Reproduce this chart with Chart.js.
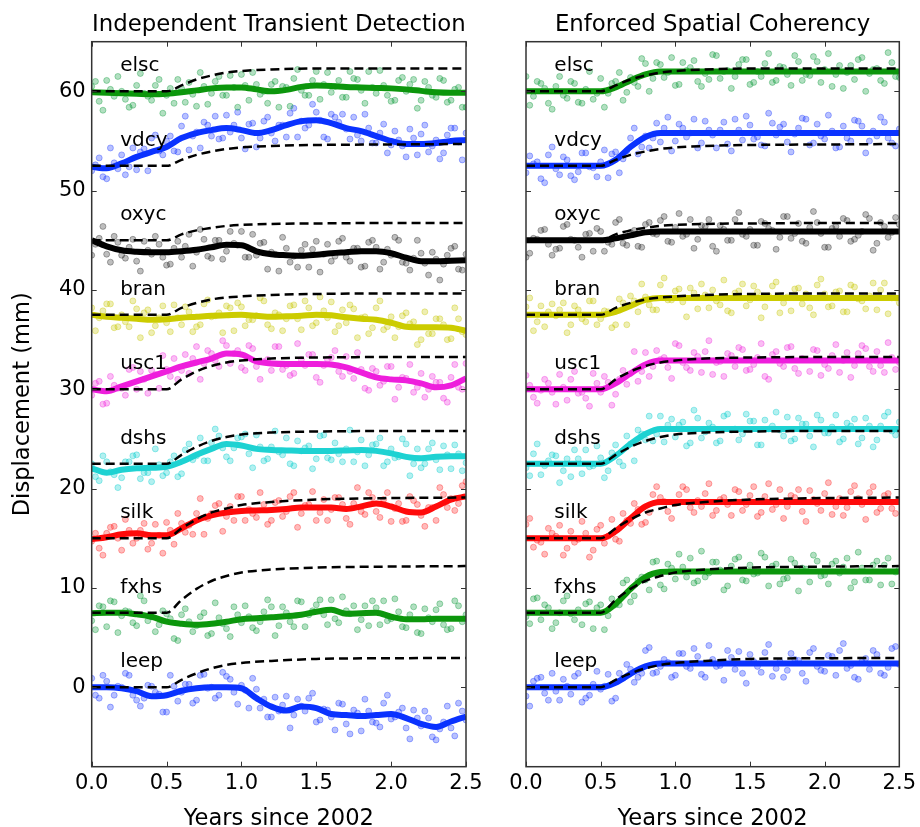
<!DOCTYPE html>
<html><head><meta charset="utf-8">
<script src="https://cdn.jsdelivr.net/npm/chart.js@4.4.1/dist/chart.umd.min.js"></script>
<style>
html,body{margin:0;padding:0;background:#fff;width:920px;height:827px;overflow:hidden}
#cl{position:absolute;left:0;top:0}
#cr{position:absolute;left:490px;top:0}
</style></head><body>
<canvas id="cl" width="500" height="827"></canvas>
<canvas id="cr" width="430" height="827"></canvas>
<script>
// ---------- categories / ticks ----------
const stations = ['elsc','vdcy','oxyc','bran','usc1','dshs','silk','fxhs','leep'];
const labelY = [62, 54.5, 47, 39.5, 32, 24.5, 17, 9.5, 2];
const labelX = 0.19;
const xTicks = [0, 0.5, 1.0, 1.5, 2.0, 2.5];
const yTicks = [0, 10, 20, 30, 40, 50, 60];
const panelTitles = ['Independent Transient Detection', 'Enforced Spatial Coherency'];
const xTitle = 'Years since 2002';
const yTitle = 'Displacement (mm)';

// ---------- time grids ----------
const obsTimes = [0,0.05,0.1,0.15,0.2,0.25,0.3,0.35,0.4,0.45,0.5,0.55,0.6,0.65,0.7,0.75,0.8,0.85,0.9,0.95,1.0,1.05,1.1,1.15,1.2,1.25,1.3,1.35,1.4,1.45,1.5,1.55,1.6,1.65,1.7,1.75,1.8,1.85,1.9,1.95,2.0,2.05,2.1,2.15,2.2,2.25,2.3,2.35,2.4,2.45,2.5];
const obsTimes2 = [0.025,0.075,0.125,0.175,0.225,0.275,0.325,0.375,0.425,0.475,0.525,0.575,0.625,0.675,0.725,0.775,0.825,0.875,0.925,0.975,1.025,1.075,1.125,1.175,1.225,1.275,1.325,1.375,1.425,1.475,1.525,1.575,1.625,1.675,1.725,1.775,1.825,1.875,1.925,1.975,2.025,2.075,2.125,2.175,2.225,2.275,2.325,2.375,2.425,2.475];
const fitTimesLeft = [0,0.1,0.2,0.3,0.4,0.5,0.6,0.7,0.8,0.9,1.0,1.1,1.2,1.3,1.4,1.5,1.6,1.7,1.8,1.9,2.0,2.1,2.2,2.3,2.4,2.5];
const fitTimesRight = [0,0.5,0.6,0.7,0.8,0.9,1.0,2.5];
const trueTimes = [0,0.5,0.6,0.7,0.8,0.9,1.0,1.2,1.5,2.0,2.5];

// ---------- true transient (dashed) ----------
const true_elsc = [60,60,60.6,61.2,61.6,61.9,62.05,62.2,62.3,62.3,62.3];
const true_vdcy = [52.5,52.5,53.1,53.6,53.95,54.2,54.35,54.5,54.6,54.65,54.7];
const true_oxyc = [45,45,45.6,46.0,46.25,46.45,46.55,46.65,46.7,46.75,46.75];
const true_bran = [37.5,37.5,38.2,38.7,39.05,39.25,39.35,39.5,39.6,39.65,39.65];
const true_usc1 = [30,30,31.0,31.8,32.35,32.7,32.9,33.1,33.2,33.25,33.25];
const true_dshs = [22.5,22.5,23.4,24.2,24.8,25.2,25.45,25.65,25.75,25.8,25.8];
const true_silk = [15,15,16.0,16.9,17.6,18.0,18.35,18.65,18.9,19.05,19.1];
const true_fxhs = [7.5,7.5,8.8,9.9,10.7,11.2,11.55,11.85,12.05,12.15,12.2];
const true_leep = [0,0,0.75,1.4,1.9,2.25,2.45,2.65,2.85,2.92,2.95];

// ---------- left panel fits ----------
const fitL_elsc = [59.9,59.85,59.8,59.75,59.7,59.75,59.9,60.1,60.3,60.4,60.4,60.2,60.0,60.15,60.45,60.6,60.55,60.45,60.4,60.35,60.3,60.2,60.05,59.9,59.85,59.85];
const fitL_vdcy = [52.4,52.25,52.75,53.4,53.9,54.4,55.3,55.8,56.1,56.3,56.1,55.8,56.1,56.6,57.0,57.1,56.8,56.3,56.0,55.5,55.0,54.7,54.7,54.8,55.0,55.1];
const fitL_oxyc = [45.0,44.4,44.0,43.85,43.8,43.8,43.9,44.05,44.3,44.55,44.5,43.9,43.6,43.5,43.45,43.55,43.7,43.8,43.9,43.9,43.7,43.25,42.9,42.9,42.95,43.0];
const fitL_bran = [37.5,37.3,37.2,37.1,37.0,37.05,37.2,37.3,37.4,37.45,37.5,37.4,37.3,37.35,37.4,37.5,37.45,37.25,37.1,37.0,36.7,36.3,36.25,36.25,36.2,35.9];
const fitL_usc1 = [30.0,29.8,30.3,30.8,31.3,31.8,32.3,32.7,33.1,33.6,33.5,32.8,32.6,32.55,32.55,32.55,32.5,32.2,31.7,31.2,31.0,30.9,30.6,30.2,30.4,31.1];
const fitL_dshs = [22.05,21.6,21.9,22.05,22.1,22.2,22.7,23.4,24.0,24.5,24.35,24.0,23.9,23.85,23.8,23.8,23.8,23.85,23.9,23.8,23.55,23.2,23.05,23.2,23.25,23.25];
const fitL_silk = [14.9,15.1,15.4,15.5,15.3,15.3,16.0,16.8,17.3,17.6,17.75,17.8,17.85,17.95,18.1,18.1,18.1,17.95,18.2,18.5,18.2,17.7,17.6,18.2,18.9,19.2];
const fitL_fxhs = [7.45,7.5,7.5,7.35,7.1,6.6,6.4,6.3,6.4,6.6,6.85,6.95,7.05,7.15,7.3,7.6,7.8,7.4,7.45,7.5,7.1,6.85,6.85,6.9,6.9,6.9];
const fitL_leep = [0,0,-0.1,-0.4,-0.9,-0.8,-0.35,-0.1,0,0,-0.1,-1.1,-1.95,-2.35,-1.95,-2.1,-2.7,-2.8,-2.9,-2.8,-2.7,-3.1,-3.7,-4.0,-3.45,-2.95];

// ---------- right panel fits ----------
const fitR_elsc = [60,60,60.4,61.1,61.7,62.0,62.0,62.0];
const fitR_vdcy = [52.5,52.5,53.1,54.4,55.4,55.8,55.8,55.8];
const fitR_oxyc = [45,45,45.2,45.5,45.8,45.9,45.9,45.9];
const fitR_bran = [37.5,37.5,37.8,38.4,39.0,39.2,39.2,39.2];
const fitR_usc1 = [30,30,30.6,31.6,32.5,32.9,32.9,32.9];
const fitR_dshs = [22.5,22.5,23.3,24.5,25.5,26.0,26.0,26.0];
const fitR_silk = [15,15,15.7,17.0,18.2,18.65,18.65,18.65];
const fitR_fxhs = [7.5,7.5,8.4,9.9,11.1,11.6,11.65,11.65];
const fitR_leep = [0,0,0.45,1.35,2.1,2.4,2.4,2.4];

// ---------- left panel observations ----------
const obsL_elsc = [60.5,59.0,61.1,59.5,60.0,58.4,60.6,59.8,59.1,61.2,59.6,58.8,60.3,60.9,58.5,60.5,59.8,61.5,59.6,60.4,61.7,59.1,60.7,60.0,60.7,58.4,60.4,61.3,60.1,59.6,62.0,60.7,59.9,61.1,59.4,61.3,60.1,62.0,59.8,60.6,59.0,61.1,60.0,61.2,59.1,60.4,59.4,61.1,59.1,60.4,58.4];
const obsL_vdcy = [52.0,53.3,51.2,52.8,53.6,52.4,52.1,54.2,55.3,54.0,55.0,54.0,56.5,54.1,55.9,56.9,55.5,55.2,57.6,56.6,55.3,56.7,54.4,57.0,55.8,56.6,55.4,58.3,57.0,56.6,57.9,55.4,57.7,56.9,56.2,57.4,55.0,56.3,54.8,56.7,54.6,55.1,53.4,55.3,55.7,53.9,55.1,53.8,56.3,54.9,55.8];
const obsL_oxyc = [43.5,45.2,43.6,45.4,43.5,44.3,42.9,44.9,43.6,44.6,42.5,44.2,43.3,45.6,43.8,45.1,43.2,45.0,43.9,44.7,45.9,43.3,43.5,44.8,43.8,41.9,44.2,43.4,44.0,42.3,44.9,43.6,42.9,44.9,43.3,44.2,42.3,44.8,44.3,42.8,43.5,45.0,42.7,43.2,43.7,41.5,43.1,42.6,44.2,42.1,43.6];
const obsL_bran = [38.2,37.2,38.6,36.2,37.5,36.3,38.1,37.7,35.7,37.2,36.7,38.5,36.5,37.8,36.3,38.6,37.3,37.7,38.4,35.9,38.3,37.0,37.4,38.9,36.1,37.5,37.1,38.5,36.0,38.2,36.7,37.9,38.8,36.4,36.7,38.1,37.2,35.6,38.2,36.0,37.3,36.3,37.7,36.8,35.0,35.6,37.1,36.5,35.1,37.1,35.5];
const obsL_usc1 = [29.4,30.8,28.6,30.4,30.1,32.0,30.0,31.0,31.9,30.1,32.0,33.1,31.9,31.6,34.3,32.6,33.6,32.3,34.4,33.6,32.2,34.4,32.3,32.8,31.9,34.3,32.4,31.6,33.0,33.5,31.2,32.4,33.2,31.8,33.3,31.1,32.0,29.9,31.8,30.8,32.3,30.2,31.1,29.7,31.6,30.0,30.7,29.1,31.2,30.2,32.6];
const obsL_dshs = [22.5,20.8,22.7,21.4,21.1,22.7,23.4,21.6,20.7,22.4,21.6,23.3,21.5,24.5,23.3,22.8,24.6,25.3,23.2,24.1,25.2,23.5,25.4,22.8,24.2,23.7,25.1,22.3,23.8,24.3,23.0,25.4,22.9,23.5,24.0,22.7,24.9,23.4,24.5,22.3,24.0,23.2,24.5,22.5,22.1,24.0,22.9,24.3,22.0,23.5,22.6];
const obsL_silk = [14.7,14.0,15.5,16.2,13.8,15.8,15.0,16.5,14.5,15.3,16.6,14.4,16.5,16.3,17.5,15.4,17.5,18.5,17.2,16.8,19.2,17.9,17.1,18.4,16.8,18.8,17.7,19.6,17.5,18.4,16.8,18.9,17.9,19.1,17.0,18.5,17.7,19.6,17.7,18.9,16.7,18.5,16.8,18.8,17.3,18.1,16.8,19.4,19.0,18.5,20.7];
const obsL_fxhs = [6.7,8.2,6.1,8.6,7.2,7.6,6.2,8.7,7.1,6.3,7.4,4.9,7.3,6.6,6.2,7.5,5.4,7.0,5.9,8.1,6.5,7.1,5.7,7.6,8.1,6.2,7.5,6.1,8.6,7.3,8.3,7.3,8.8,6.5,7.7,8.2,6.8,6.2,8.0,8.7,6.9,7.6,6.0,8.1,5.4,7.0,7.8,6.3,5.9,8.2,7.3];
const obsL_leep = [0.9,-1.1,0.6,-0.8,0.0,1.2,-1.3,-1.1,0.1,-0.7,-2.5,0.1,-0.5,0.3,-1.3,1.3,0.0,-0.8,1.1,-0.5,0.2,-2.1,-0.2,-1.2,-3.0,-2.4,-0.9,-2.8,-1.9,-1.1,-3.5,-2.2,-3.0,-1.6,-3.7,-2.3,-4.4,-2.4,-3.6,-1.6,-3.2,-2.5,-4.1,-2.3,-3.9,-3.1,-5.3,-3.5,-4.1,-1.6,-3.3];

const obsL2_elsc = [61.0,58.1,60.2,61.5,59.2,58.6,61.8,59.5,60.6,57.8,60.3,61.2,58.9,59.7,61.9,58.7,61.0,59.6,61.6,58.4,60.6,61.9,59.7,58.8,61.0,60.5,58.5,62.2,59.6,61.1,59.2,61.9,60.5,59.4,62.0,61.2,58.8,60.4,62.1,59.6,59.1,61.4,60.7,58.3,61.0,59.6,61.3,58.9,60.2,58.4];
const obsL2_vdcy = [52.6,51.4,54.3,52.2,51.6,54.3,53.9,52.0,55.6,53.6,55.5,53.9,57.5,55.5,54.3,56.6,57.5,55.3,55.9,57.9,54.2,56.8,55.3,57.4,55.0,56.6,57.8,55.4,56.3,58.7,57.1,55.2,57.4,57.7,55.2,55.6,57.7,54.8,55.8,53.8,56.0,54.5,56.2,53.6,56.6,54.5,53.2,55.6,56.3,53.1];
const obsL2_oxyc = [44.6,46.4,42.8,44.8,43.2,45.1,41.9,44.0,45.4,43.3,42.6,44.9,44.4,42.4,46.1,43.4,45.0,43.1,45.9,44.5,43.3,45.6,44.7,42.1,43.6,45.3,42.8,42.3,44.6,44.1,41.8,44.6,43.4,45.2,42.9,44.2,42.4,45.0,42.1,44.1,45.3,42.8,42.0,45.0,42.7,43.8,41.0,43.5,44.4,42.0];
const obsL2_bran = [35.9,37.9,38.6,36.3,36.8,38.9,35.2,38.0,36.4,38.4,35.8,37.2,38.3,35.8,36.5,39.0,37.4,35.7,38.2,38.7,36.4,37.0,39.2,36.5,37.7,35.9,38.4,37.1,38.9,36.4,39.3,37.2,35.8,38.0,38.5,35.2,37.3,36.2,38.9,36.3,35.2,37.4,36.6,34.5,37.8,35.6,37.1,35.0,38.2,35.8];
const obsL2_usc1 = [30.6,28.5,31.3,30.1,29.4,32.2,31.8,29.6,31.5,33.4,31.3,31.0,33.5,33.1,31.0,33.9,32.9,34.9,32.6,33.9,31.9,34.1,31.0,33.0,34.3,32.0,31.4,34.6,32.4,33.5,30.7,33.0,33.9,31.3,31.8,33.7,30.1,32.1,30.4,32.3,29.0,31.2,32.5,30.2,29.2,31.3,30.7,28.7,32.5,30.0];
const obsL2_dshs = [21.2,23.3,21.7,20.1,22.7,23.3,21.0,21.6,24.0,21.3,22.7,21.2,23.9,22.9,25.1,22.8,26.0,24.1,22.8,25.1,25.5,22.1,24.2,23.0,25.8,23.4,22.5,24.8,24.1,22.0,25.3,23.1,24.6,22.7,25.9,23.7,22.3,24.4,25.1,22.7,23.1,25.0,21.3,24.0,22.5,24.6,21.9,23.4,24.4,21.8];
const obsL2_silk = [15.5,13.3,16.1,15.0,16.9,14.5,15.8,13.9,16.4,13.5,15.8,17.5,15.6,15.4,19.0,17.0,18.3,15.7,18.2,19.2,16.8,17.5,19.6,16.4,18.6,17.2,19.2,16.1,18.3,19.7,17.6,16.8,19.1,18.4,16.4,20.1,17.4,19.1,17.1,19.6,18.0,16.7,19.2,18.4,16.2,18.1,20.1,18.1,17.8,20.3];
const obsL2_fxhs = [5.8,8.1,8.7,5.5,7.7,6.5,9.2,6.7,5.6,7.7,6.9,4.7,7.9,5.6,7.1,5.2,8.5,6.4,5.1,7.3,8.2,6.0,6.6,8.8,5.2,8.1,6.6,8.7,6.1,7.7,8.8,6.3,6.9,9.1,7.4,5.8,8.2,8.7,6.3,6.7,8.9,6.1,7.3,5.5,7.9,6.6,8.4,5.8,8.7,6.6];
const obsL2_leep = [-0.8,1.2,-2.0,0.1,1.4,-0.8,-1.9,0.2,-0.5,-2.5,1.2,-1.4,0.3,-1.6,1.2,-0.1,-1.1,1.5,0.8,-1.7,-0.3,0.9,-2.1,-3.0,-1.0,-1.8,-4.1,-1.2,-2.4,-0.6,-3.3,-2.3,-4.3,-1.7,-4.7,-2.6,-1.2,-3.5,-4.0,-0.8,-3.0,-2.1,-5.2,-3.1,-2.4,-5.0,-4.2,-1.9,-4.9,-2.4];

// ---------- right panel observations ----------
const obsR_elsc = [61.5,59.5,60.8,58.8,60.5,59.6,61.0,58.9,60.2,59.2,61.3,59.8,61.0,59.1,61.4,60.5,62.8,61.3,62.7,61.9,60.6,62.9,62.4,61.0,61.8,63.7,61.3,62.1,61.5,63.2,60.7,62.0,62.8,60.9,62.5,61.7,63.6,61.1,61.6,63.0,62.2,60.5,62.6,61.9,61.2,63.4,61.8,62.3,60.8,62.9,61.4];
const obsR_vdcy = [51.8,52.7,51.2,53.6,52.2,53.4,51.5,51.9,53.8,52.3,52.9,51.3,53.9,53.2,55.3,53.7,55.5,55.3,54.9,57.4,55.0,56.3,55.8,54.3,57.0,55.6,56.1,54.7,57.2,55.1,56.6,55.4,54.5,56.8,56.4,54.9,55.7,57.3,54.6,56.7,55.2,56.0,54.4,55.3,57.1,56.5,55.0,55.5,56.9,54.8,56.2];
const obsR_oxyc = [43.3,45.2,46.0,44.6,44.1,46.4,45.1,44.3,45.6,43.9,45.9,44.8,46.8,44.7,45.8,44.4,46.6,45.7,47.0,44.9,46.3,45.4,47.1,45.1,46.4,44.4,46.5,45.0,47.1,45.6,46.1,44.5,46.7,46.0,45.3,47.4,45.7,44.9,46.3,46.8,44.3,46.2,45.4,47.0,45.1,45.9,47.2,44.7,46.4,45.8,46.6];
const obsR_bran = [38.3,35.9,38.4,37.8,37.4,38.7,36.5,38.0,36.8,38.9,37.1,37.8,36.5,38.7,39.4,37.8,39.3,38.0,40.5,39.0,39.9,38.8,40.2,38.1,39.5,40.0,38.5,37.9,39.7,40.6,39.0,39.8,38.3,40.4,37.7,39.3,40.1,38.6,38.2,40.5,39.6,38.4,39.9,37.8,40.3,38.9,39.4,38.0,40.7,39.2,38.7];
const obsR_usc1 = [31.4,29.2,29.9,30.6,28.5,30.2,31.0,29.6,29.1,31.6,29.7,30.7,29.5,31.9,31.6,30.8,33.7,32.3,33.0,32.2,34.6,32.7,31.9,33.3,33.8,31.5,32.8,33.6,32.3,34.0,32.0,33.2,31.3,33.5,32.6,34.2,32.1,33.1,31.8,33.9,32.5,33.4,31.7,33.7,32.4,34.4,32.3,33.8,31.7,33.2,32.7];
const obsR_dshs = [22.1,23.5,21.4,22.8,23.3,21.8,21.2,23.0,23.9,22.3,23.1,21.8,24.4,22.3,24.5,25.9,24.9,24.8,27.3,26.4,25.2,26.7,24.6,27.1,25.7,26.2,24.8,27.5,26.0,25.5,26.8,24.4,26.9,26.3,25.9,27.2,25.0,26.5,25.3,27.4,25.6,26.2,24.7,26.6,27.0,25.1,26.3,24.9,27.3,25.8,26.7];
const obsR_silk = [16.4,14.1,14.6,16.0,15.2,13.3,15.7,14.9,15.5,13.8,16.3,15.2,14.9,17.5,16.5,17.9,16.6,19.4,19.1,17.7,18.5,20.2,18.1,18.8,19.5,17.3,18.9,18.4,19.9,17.8,19.3,17.2,19.2,17.9,19.9,18.2,19.1,17.7,19.8,18.5,19.5,17.4,19.0,18.1,20.3,18.4,19.6,17.6,19.3,18.0,18.8];
const obsR_fxhs = [7.1,8.9,6.8,8.0,6.5,8.7,7.4,7.8,8.4,5.9,8.3,7.2,8.3,10.5,8.6,10.7,10.8,12.6,10.3,12.4,10.9,12.1,13.0,10.7,11.1,12.6,11.8,10.2,12.9,10.8,12.3,11.5,13.1,12.2,10.4,11.0,12.5,12.0,10.6,12.7,11.3,12.4,11.5,13.0,10.6,12.0,10.8,12.7,12.3,10.4,11.9];
const obsR_leep = [-0.9,0.6,1.0,-1.3,-0.4,0.8,-0.7,1.4,-1.1,0.3,-0.2,1.3,-1.1,0.9,1.8,1.0,3.7,1.4,2.1,2.5,1.2,3.4,1.9,3.1,1.0,2.8,2.2,3.7,1.8,1.4,3.3,2.1,3.5,1.1,2.6,1.7,2.8,1.4,3.5,2.1,1.6,3.1,3.7,1.9,1.0,2.6,1.8,3.3,1.2,3.9,2.3];

const obsR2_elsc = [58.6,61.0,60.3,58.2,61.5,59.3,60.8,58.8,62.0,59.8,58.4,60.8,61.9,59.9,60.9,63.3,60.0,62.9,61.4,63.4,60.7,62.1,63.1,60.5,61.2,63.6,62.0,60.3,62.7,63.2,60.9,61.5,63.8,61.1,62.4,60.6,63.0,61.7,63.5,60.9,63.8,61.7,60.3,62.6,63.2,60.0,62.2,61.1,63.9,61.5];
const obsR2_vdcy = [53.5,52.9,50.8,54.4,51.6,53.1,51.1,53.8,52.4,51.4,54.1,53.7,51.8,54.0,56.3,54.4,54.3,56.8,56.3,54.0,56.7,55.4,57.2,54.8,56.1,54.3,56.9,54.0,56.1,57.5,55.2,54.6,57.8,55.6,56.7,53.9,56.3,57.2,54.8,55.5,57.6,54.3,56.5,55.0,57.0,53.8,56.0,57.4,55.3,54.5];
const obsR2_oxyc = [43.7,45.1,46.1,43.5,44.2,46.6,45.0,43.3,45.7,46.2,43.9,44.6,47.1,44.5,46.0,44.3,46.8,45.6,47.4,44.8,47.7,45.6,44.2,46.5,47.1,43.9,46.1,45.0,47.8,45.4,44.5,46.9,46.2,44.1,47.4,45.2,46.7,44.7,47.9,45.7,44.3,46.4,47.2,44.9,45.5,47.6,44.0,46.8,45.3,47.3];
const obsR2_bran = [39.2,36.8,36.3,38.6,38.0,35.7,38.4,37.1,38.9,36.5,37.9,36.2,39.1,36.5,38.9,40.6,38.5,38.0,41.2,39.0,40.1,37.3,39.7,40.6,38.2,38.9,41.0,37.7,39.9,38.4,40.4,37.2,39.4,40.8,38.7,37.9,40.2,39.6,37.5,41.1,38.3,39.8,37.8,40.5,39.1,38.1,40.7,40.0,37.6,39.2];
const obsR2_usc1 = [30.4,28.6,31.0,29.7,31.5,28.9,31.8,29.7,28.3,30.6,31.3,28.4,31.0,30.5,33.8,31.8,31.3,33.9,33.2,31.1,34.4,32.2,33.7,31.7,34.9,32.7,31.3,33.4,34.2,31.9,32.5,34.6,31.0,33.8,32.3,34.3,31.6,33.0,34.0,31.4,32.1,34.5,32.9,31.2,33.6,34.1,31.8,32.4,34.7,32.0];
const obsR2_dshs = [21.3,24.5,22.3,23.4,20.6,23.0,23.9,21.5,22.2,24.3,21.1,23.6,22.7,25.3,22.8,25.5,27.3,25.5,24.7,27.0,26.4,24.3,27.9,25.1,26.6,24.6,27.3,25.9,24.9,27.5,26.8,24.4,26.0,27.7,25.3,24.8,27.1,26.5,24.2,26.9,25.6,27.4,25.0,26.3,24.5,27.1,24.2,26.3,27.7,25.4];
const obsR2_silk = [17.0,14.8,13.4,15.5,16.3,14.0,14.6,16.7,13.1,15.9,14.5,16.9,14.7,16.8,18.5,16.4,17.6,20.2,18.7,17.0,19.4,19.9,17.6,18.2,20.5,17.8,19.1,17.3,19.7,18.4,20.2,17.6,20.5,18.4,17.0,19.3,19.9,16.7,18.9,17.8,20.6,18.2,17.3,19.7,19.0,16.9,20.2,18.0,19.5,17.5];
const obsR2_fxhs = [6.4,9.0,8.3,5.9,7.5,9.2,6.8,6.3,8.6,8.0,5.8,8.9,8.3,10.8,9.2,11.1,9.8,12.7,9.9,12.0,13.4,11.1,10.5,13.7,11.5,12.6,9.8,12.2,13.1,10.7,11.4,13.5,10.2,12.4,10.9,12.9,9.7,11.9,13.3,11.2,10.4,12.7,12.1,10.0,13.6,10.8,12.3,10.3,13.0,11.6];
const obsR2_leep = [-1.9,0.9,-0.6,1.4,-1.3,0.1,1.1,-1.5,-0.8,1.6,0.1,-1.4,1.4,2.3,0.5,1.4,4.0,1.5,2.8,1.0,3.4,2.1,3.9,1.3,4.2,2.1,0.7,3.0,3.6,0.4,2.6,1.5,4.3,1.9,1.0,3.4,2.7,0.6,3.9,1.7,3.2,1.2,4.4,2.2,0.8,2.9,3.7,1.4,2.0,4.1];

// ---------- styles ----------
const lineColors = ['#0c960c','#0a32ff','#000000','#cccc00','#ee1edc','#1ed2d2','#ff0a0a','#0c960c','#0a32ff'];
const pointRGB = ['0,150,50','20,50,255','40,40,40','200,200,0','240,40,220','0,205,205','255,30,30','0,150,50','20,50,255'];

const trueSeries = [true_elsc,true_vdcy,true_oxyc,true_bran,true_usc1,true_dshs,true_silk,true_fxhs,true_leep];
const fitLeft = [fitL_elsc,fitL_vdcy,fitL_oxyc,fitL_bran,fitL_usc1,fitL_dshs,fitL_silk,fitL_fxhs,fitL_leep];
const fitRight = [fitR_elsc,fitR_vdcy,fitR_oxyc,fitR_bran,fitR_usc1,fitR_dshs,fitR_silk,fitR_fxhs,fitR_leep];
const obsLeft = [obsL_elsc,obsL_vdcy,obsL_oxyc,obsL_bran,obsL_usc1,obsL_dshs,obsL_silk,obsL_fxhs,obsL_leep];
const obsLeft2 = [obsL2_elsc,obsL2_vdcy,obsL2_oxyc,obsL2_bran,obsL2_usc1,obsL2_dshs,obsL2_silk,obsL2_fxhs,obsL2_leep];
const obsRight = [obsR_elsc,obsR_vdcy,obsR_oxyc,obsR_bran,obsR_usc1,obsR_dshs,obsR_silk,obsR_fxhs,obsR_leep];
const obsRight2 = [obsR2_elsc,obsR2_vdcy,obsR2_oxyc,obsR2_bran,obsR2_usc1,obsR2_dshs,obsR2_silk,obsR2_fxhs,obsR2_leep];

Chart.defaults.font.family = "'DejaVu Sans', sans-serif";
Chart.defaults.color = '#000';

const pts = (xs, ys) => xs.map((t, k) => ({x: t, y: ys[k]}));

function buildDatasets(fitTimes, fits, obs, obs2) {
  const sets = [];
  stations.forEach((s, i) => {
    sets.push({
      label: s + ' true', data: pts(trueTimes, trueSeries[i]), showLine: true,
      borderColor: '#000', borderWidth: 2.5, borderDash: [9, 5], pointRadius: 0,
      cubicInterpolationMode: 'monotone', order: 0, clip: 0
    });
    sets.push({
      label: s + ' fit', data: pts(fitTimes, fits[i]), showLine: true,
      borderColor: lineColors[i], borderWidth: 6, pointRadius: 0,
      cubicInterpolationMode: 'monotone', order: 1, clip: 0
    });
    sets.push({
      label: s, data: pts(obsTimes, obs[i]).concat(pts(obsTimes2, obs2[i])), showLine: false,
      pointRadius: 3.0, pointBorderWidth: 0.8,
      backgroundColor: 'rgba(' + pointRGB[i] + ',0.3)',
      borderColor: 'rgba(' + pointRGB[i] + ',0.45)',
      order: 2, clip: 0
    });
  });
  return sets;
}

const decor = {
  id: 'decor',
  afterDatasetsDraw(chart, args, o) {
    const {ctx, chartArea: a} = chart;
    const xs = chart.scales.x, ys = chart.scales.y;
    ctx.save();
    ctx.strokeStyle = '#333'; ctx.lineWidth = 1.5;
    ctx.strokeRect(a.left, a.top, a.right - a.left, a.bottom - a.top);
    ctx.lineWidth = 1;
    ctx.beginPath();
    xTicks.forEach(v => {
      const p = Math.round(xs.getPixelForValue(v)) + 0.5;
      ctx.moveTo(p, a.bottom); ctx.lineTo(p, a.bottom - 5);
      ctx.moveTo(p, a.top); ctx.lineTo(p, a.top + 5);
    });
    yTicks.forEach(v => {
      const p = Math.round(ys.getPixelForValue(v)) + 0.5;
      ctx.moveTo(a.left, p); ctx.lineTo(a.left + 5, p);
      ctx.moveTo(a.right, p); ctx.lineTo(a.right - 5, p);
    });
    ctx.stroke();
    ctx.fillStyle = '#000';
    ctx.font = "20px 'DejaVu Sans'";
    ctx.textAlign = 'left'; ctx.textBaseline = 'alphabetic';
    stations.forEach((s, i) => ctx.fillText(s, xs.getPixelForValue(labelX), ys.getPixelForValue(labelY[i])));
    ctx.textAlign = 'center';
    const cx = (a.left + a.right) / 2;
    ctx.font = "22.8px 'DejaVu Sans'";
    ctx.fillText(o.title, cx, 31);
    ctx.font = "22.6px 'DejaVu Sans'";
    ctx.fillText(xTitle, cx, 825);
    if (o.yTitle) {
      ctx.translate(29, (a.top + a.bottom) / 2);
      ctx.rotate(-Math.PI / 2);
      ctx.fillText(o.yTitle, 0, 0);
    }
    ctx.restore();
  }
};

function makeChart(id, fitTimes, fits, obs, obs2, title, showY, padding) {
  return new Chart(document.getElementById(id), {
    type: 'scatter',
    data: {datasets: buildDatasets(fitTimes, fits, obs, obs2)},
    options: {
      responsive: false, animation: false, events: [],
      layout: {padding: padding},
      plugins: {legend: {display: false}, tooltip: {enabled: false}, title: {display: false},
        decor: {title: title, yTitle: showY ? yTitle : null}},
      scales: {
        x: {
          type: 'linear', position: 'bottom', min: 0, max: 2.5,
          grid: {display: false, drawTicks: false}, border: {display: false},
          afterBuildTicks: s => { s.ticks = xTicks.map(v => ({value: v})); },
          afterFit: s => { s.height = 60.3; },
          ticks: {font: {size: 21}, color: '#000', padding: 4, maxRotation: 0, autoSkip: false,
            callback: v => Number(v).toFixed(1)}
        },
        y: {
          type: 'linear', position: 'left', min: -8, max: 65, display: showY,
          grid: {display: false, drawTicks: false}, border: {display: false},
          afterBuildTicks: s => { s.ticks = yTicks.map(v => ({value: v})); },
          afterFit: s => { s.width = showY ? 91.7 : 0; },
          ticks: {font: {size: 21}, color: '#000', padding: 6, callback: v => String(v)}
        }
      }
    },
    plugins: [decor]
  });
}

makeChart('cl', fitTimesLeft, fitLeft, obsLeft, obsLeft2, panelTitles[0], true, {top: 41.7, right: 34, left: 0, bottom: 0});
makeChart('cr', fitTimesRight, fitRight, obsRight, obsRight2, panelTitles[1], false, {top: 41.7, right: 19.3, left: 36, bottom: 0});
</script>
</body></html>
